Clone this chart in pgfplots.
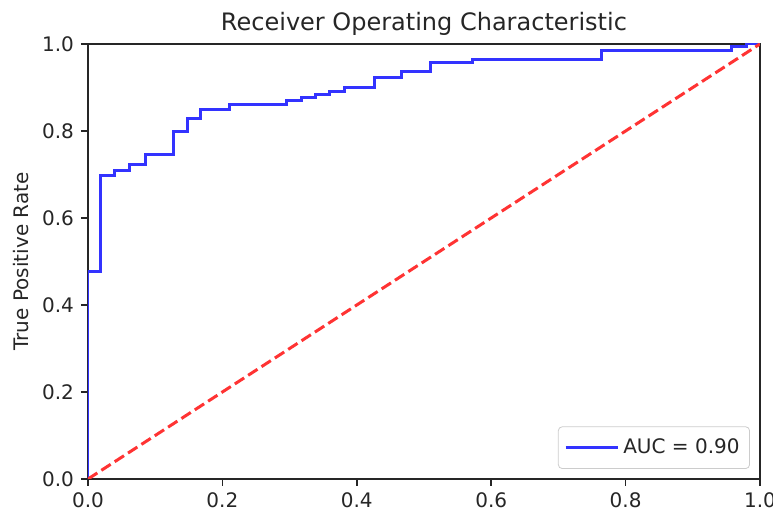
\documentclass[border=0pt]{standalone}
\usepackage{fontspec}
\setmainfont{DejaVu Sans}
\usepackage{pgfplots}
\pgfplotsset{compat=1.18}

\definecolor{rocblue}{RGB}{51,51,255}
\definecolor{rocred}{RGB}{255,51,51}
\definecolor{axgray}{RGB}{38,38,38}

\begin{document}
\begin{tikzpicture}
\begin{axis}[
  scale only axis,
  width=336pt, height=217.5pt,
  xmin=0, xmax=1, ymin=0, ymax=1,
  xtick={0,0.2,...,1.0}, ytick={0,0.2,...,1.0},
  tick align=outside, major tick length=3.5pt,
  tick style={line width=0.8pt, color=axgray},
  axis line style={line width=0.8pt, color=axgray},
  xtick pos=bottom, ytick pos=left,
  tick label style={font=\fontsize{10}{12}\selectfont, color=axgray},
  /pgf/number format/.cd, fixed, fixed zerofill, precision=1, assume math mode=true,
  /pgfplots/.cd,
  title={Receiver Operating Characteristic},
  title style={font=\fontsize{12}{14}\selectfont, color=axgray, yshift=-5.5pt},
  ylabel={True Positive Rate},
  ylabel style={font=\fontsize{10}{12}\selectfont, color=axgray},
  legend cell align=left,
  legend style={at={(rel axis cs:1,0)}, anchor=south east, xshift=-5pt, yshift=5pt,
    draw=black!20, rounded corners=2pt, font=\fontsize{10}{12}\selectfont,
    inner xsep=3pt, inner ysep=4pt, text=axgray},
  legend image code/.code={\draw[#1] (0pt,0pt) -- (20pt,0pt); \path (0pt,0pt) -- (26pt,0pt);},
]
\addplot[color=rocblue, line width=1.5pt, line join=miter] coordinates {
  (0,0) (0,0.476) (0.019,0.476) (0.019,0.697) (0.040,0.697) (0.040,0.710)
  (0.0615,0.710) (0.0615,0.724) (0.085,0.724) (0.085,0.747) (0.127,0.747)
  (0.127,0.798) (0.148,0.798) (0.148,0.829) (0.168,0.829) (0.168,0.850)
  (0.211,0.850) (0.211,0.862) (0.296,0.862) (0.296,0.869) (0.318,0.869)
  (0.318,0.876) (0.339,0.876) (0.339,0.883) (0.360,0.883) (0.360,0.891)
  (0.381,0.891) (0.381,0.899) (0.426,0.899) (0.426,0.922) (0.467,0.922)
  (0.467,0.936) (0.509,0.936) (0.509,0.958) (0.572,0.958) (0.572,0.964)
  (0.764,0.964) (0.764,0.986) (0.958,0.986) (0.958,0.995) (0.980,0.995)
  (0.980,1) (1,1)
};
\addlegendentry{AUC = 0.90}
\addplot[color=rocred, line width=1.5pt, dash pattern=on 5.55pt off 2.4pt, forget plot] coordinates {
  (0,0) (1,1)
};
\end{axis}
\pgfresetboundingbox
\useasboundingbox (current axis.south west) ++(-44pt,-16.5pt) rectangle ([shift={(6.5pt,22pt)}]current axis.north east);
\end{tikzpicture}
\end{document}
